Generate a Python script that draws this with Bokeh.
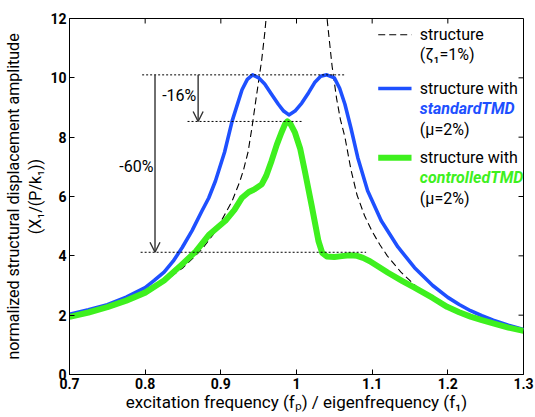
from bokeh.plotting import figure
from bokeh.models import (Range1d, FixedTicker, Label, Arrow, OpenHead)
from bokeh.embed import file_html
from bokeh.resources import INLINE

# ---------------- data ----------------
freq_structure = [0.70, 0.725, 0.75, 0.775, 0.80, 0.825, 0.85, 0.875, 0.89, 0.90, 0.915,
                  0.925, 0.93, 0.936, 0.941, 0.946, 0.95, 0.954, 0.958, 0.962, 0.97,
                  0.98, 0.99, 1.00, 1.01, 1.02, 1.03, 1.038, 1.042, 1.047, 1.053,
                  1.058, 1.064, 1.072, 1.08, 1.09, 1.10, 1.11, 1.12, 1.138, 1.16,
                  1.182, 1.20, 1.22, 1.24, 1.26, 1.28, 1.30]
amp_structure = [1.96, 2.11, 2.29, 2.51, 2.78, 3.13, 3.60, 4.22, 4.72, 5.15, 5.85,
                 6.5, 6.9, 7.5, 8.3, 9.2, 9.9, 10.6, 11.5, 12.6, 15.5,
                 24.0, 40.0, 50.0, 40.0, 24.0, 15.5, 12.6, 11.6, 10.4, 9.3,
                 8.6, 8.0, 6.9, 6.05, 5.35, 4.82, 4.38, 4.0, 3.45, 2.93,
                 2.52, 2.25, 2.04, 1.86, 1.70, 1.57, 1.45]

freq_standard = [0.70, 0.725, 0.75, 0.775, 0.80, 0.812, 0.825, 0.837, 0.849, 0.862, 0.875,
                 0.884, 0.893, 0.905, 0.915, 0.928, 0.935, 0.942, 0.95, 0.958, 0.967,
                 0.976, 0.983, 0.990, 0.998, 1.007, 1.016, 1.024, 1.032, 1.040, 1.050,
                 1.057, 1.064, 1.072, 1.081, 1.094, 1.112, 1.134, 1.156, 1.18, 1.20,
                 1.215, 1.23, 1.245, 1.26, 1.28, 1.30]
amp_standard = [2.03, 2.18, 2.35, 2.61, 2.93, 3.17, 3.45, 3.82, 4.28, 4.85, 5.51,
                5.95, 6.53, 7.5, 8.55, 9.6, 9.95, 10.1, 10.0, 9.79, 9.45,
                9.11, 8.88, 8.75, 8.88, 9.15, 9.5, 9.84, 10.05, 10.1, 10.0,
                9.65, 9.11, 8.3, 7.31, 6.19, 5.18, 4.3, 3.6, 3.0, 2.6,
                2.36, 2.15, 1.98, 1.83, 1.66, 1.52]

freq_controlled = [0.70, 0.725, 0.75, 0.775, 0.80, 0.825, 0.849, 0.867, 0.884, 0.906, 0.918,
                   0.928, 0.937, 0.945, 0.954, 0.960, 0.967, 0.974, 0.980, 0.985, 0.988,
                   0.992, 0.998, 1.005, 1.011, 1.02, 1.029, 1.034, 1.040, 1.050, 1.06,
                   1.07, 1.08, 1.088, 1.097, 1.108, 1.121, 1.14, 1.156, 1.18, 1.199,
                   1.215, 1.23, 1.245, 1.26, 1.28, 1.30]
amp_controlled = [1.94, 2.09, 2.27, 2.49, 2.76, 3.17, 3.72, 4.15, 4.70, 5.18, 5.55,
                  5.96, 6.15, 6.25, 6.41, 6.7, 7.2, 7.75, 8.15, 8.45, 8.53,
                  8.45, 8.15, 7.6, 6.86, 5.7, 4.5, 4.1, 3.98, 3.96, 3.99,
                  4.02, 4.0, 3.93, 3.82, 3.64, 3.43, 3.15, 2.93, 2.58, 2.28,
                  2.1, 1.95, 1.83, 1.72, 1.58, 1.47]

x_ticks = [0.7, 0.8, 0.9, 1.0, 1.1, 1.2, 1.3]
x_tick_labels = ["0.7", "0.8", "0.9", "1", "1.1", "1.2", "1.3"]
y_ticks = [0, 2, 4, 6, 8, 10, 12]

peak_standard = 10.1       # max amplitude with standard TMD
peak_controlled = 8.53     # max amplitude with controlled TMD
plateau_controlled = 4.12  # level of -60 %

X0, X1, Y0, Y1 = 0.7, 1.3, 0, 12
BLUE = "#1e50ff"
GREEN = "#3ef01e"
FONT = "Roboto"

p = figure(width=535, height=417, output_backend="svg", toolbar_location=None,
           x_range=Range1d(X0, X1), y_range=Range1d(Y0, Y1),
           min_border_left=67, min_border_right=12, min_border_top=18,
           min_border_bottom=43)
p.background_fill_color = "white"
p.border_fill_color = "white"
p.outline_line_color = "black"
p.outline_line_width = 1
p.xgrid.visible = False
p.ygrid.visible = False

def style_axis(ax):
    ax.major_tick_in = 5
    ax.major_tick_out = 0
    ax.minor_tick_line_color = None
    ax.axis_line_color = "black"
    ax.major_tick_line_color = "black"
    ax.major_label_text_font = FONT
    ax.major_label_text_font_style = "bold"
    ax.major_label_text_font_size = "14px"
    ax.major_label_text_color = "black"
    ax.major_label_standoff = 3
    ax.axis_label_text_font = FONT
    ax.axis_label_text_font_style = "normal"
    ax.axis_label_text_color = "black"

xa = p.xaxis[0]
ya = p.yaxis[0]
xa.ticker = FixedTicker(ticks=x_ticks)
ya.ticker = FixedTicker(ticks=y_ticks)
xa.major_label_overrides = {t: s for t, s in zip(x_ticks, x_tick_labels)}
style_axis(xa)
style_axis(ya)
xa.axis_label = "excitation frequency (f\u209a) / eigenfrequency (f\u2081)"
xa.axis_label_text_font_size = "17px"
xa.axis_label_standoff = 0
ya.axis_label = "normalized structural displacement amplitude\n(X\u2081/(P/k\u2081))"
ya.axis_label_text_font_size = "16px"
ya.axis_label_standoff = 2

# inward ticks on the top and right edges of the box
tick_dy = 5 / 29.65
tick_dx = 5 / 761
for t in x_ticks:
    p.add_layout(Arrow(end=None, x_start=t, x_end=t, y_start=Y1, y_end=Y1 - tick_dy,
                       line_color="black", line_width=1))
for t in y_ticks:
    p.add_layout(Arrow(end=None, x_start=X1, x_end=X1 - tick_dx, y_start=t, y_end=t,
                       line_color="black", line_width=1))

# ---------------- curves ----------------
p.line(freq_structure, amp_structure, line_color="black", line_width=1.1, line_dash="7 4")
p.line(freq_standard, amp_standard, line_color=BLUE, line_width=3.6, line_join="round")
p.line(freq_controlled, amp_controlled, line_color=GREEN, line_width=6, line_join="round")

# ---------------- reference lines & arrows ----------------
def hline(x0, x1, y):
    p.add_layout(Arrow(end=None, x_start=x0, x_end=x1, y_start=y, y_end=y,
                       line_color="black", line_width=1, line_dash="2 2"))

hline(0.796, 1.063, peak_standard)
hline(0.856, 1.007, peak_controlled)
hline(0.794, 1.092, plateau_controlled)

def varrow(x, y0, y1):
    p.add_layout(Arrow(end=OpenHead(size=10, line_width=1.4, line_color="#333333"),
                       x_start=x, x_end=x, y_start=y0, y_end=y1,
                       line_color="#333333", line_width=1.4))

varrow(0.813, peak_standard, plateau_controlled)
varrow(0.870, peak_standard, peak_controlled)

p.add_layout(Label(x=0.811, y=7.0, text="-60%", text_align="right", text_baseline="middle",
                   text_font=FONT, text_font_size="16px", text_color="black"))
p.add_layout(Label(x=0.845, y=9.39, text="-16%", text_align="center", text_baseline="middle",
                   text_font=FONT, text_font_size="16px", text_color="black"))

# ---------------- legend (manual) ----------------
lx0, lx1, tx = 1.108, 1.152, 1.163

def seg(y, color, width, dash="solid"):
    p.add_layout(Arrow(end=None, x_start=lx0, x_end=lx1, y_start=y, y_end=y,
                       line_color=color, line_width=width, line_dash=dash))

def txt(y, s, color="black", style="normal"):
    p.add_layout(Label(x=tx, y=y, text=s, text_align="left", text_baseline="middle",
                       text_font=FONT, text_font_size="16px", text_color=color,
                       text_font_style=style))

seg(11.45, "black", 1.1, "7 4")
txt(11.45, "structure")
txt(10.80, "(\u03b6\u2081=1%)")
seg(9.64, BLUE, 3.6)
txt(9.64, "structure with")
txt(8.95, "standardTMD", BLUE, "bold italic")
txt(8.27, "(\u03bc=2%)")
seg(7.31, GREEN, 6)
txt(7.31, "structure with")
txt(6.64, "controlledTMD", GREEN, "bold italic")
txt(5.93, "(\u03bc=2%)")

open("out.html", "w").write(file_html(p, INLINE))
